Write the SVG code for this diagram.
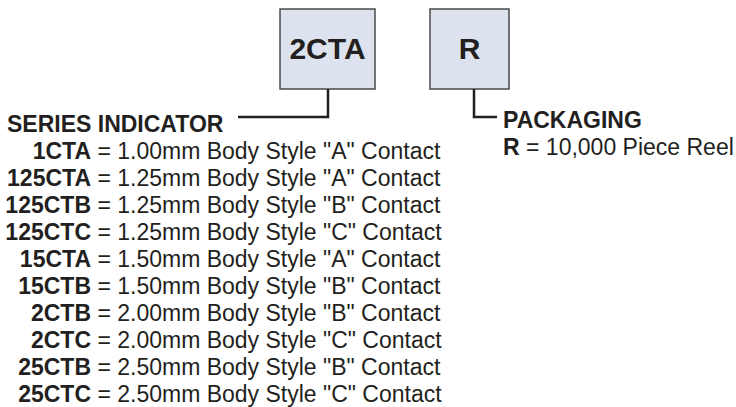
<svg xmlns="http://www.w3.org/2000/svg" width="736" height="407" viewBox="0 0 736 407">
<style>
.box{fill:#dde3ee;stroke:#4a4a4a;stroke-width:1.5}
.lbl{font-family:"Liberation Sans",Arial,sans-serif;font-weight:bold;font-size:30px;fill:#231f20;text-anchor:middle}
.h{font-family:"Liberation Sans",Arial,sans-serif;font-weight:bold;font-size:23px;fill:#231f20}
.c{font-family:"Liberation Sans",Arial,sans-serif;font-weight:bold;font-size:23px;fill:#231f20;text-anchor:end}
.d{font-family:"Liberation Sans",Arial,sans-serif;font-size:23px;fill:#231f20}
.conn{fill:none;stroke:#231f20;stroke-width:2.5}
</style>
<rect width="736" height="407" fill="#ffffff"/>
<g id="node-series">
<rect class="box" x="280" y="9" width="95" height="80"/>
<text class="lbl" x="327.5" y="59">2CTA</text>
</g>
<g id="node-packaging">
<rect class="box" x="430" y="9" width="79" height="80"/>
<text class="lbl" x="469.5" y="59">R</text>
</g>
<g id="connectors">
<polyline class="conn" points="328,89 328,117 238,117"/>
<polyline class="conn" points="474,89 474,117 497,117"/>
</g>
<g id="series-legend">
<text class="h" x="7" y="132">SERIES INDICATOR</text>
<text class="c" x="91" y="159">1CTA</text><text class="d" x="97.4" y="159">= 1.00mm Body Style "A" Contact</text>
<text class="c" x="91" y="186">125CTA</text><text class="d" x="97.4" y="186">= 1.25mm Body Style "A" Contact</text>
<text class="c" x="91" y="213">125CTB</text><text class="d" x="97.4" y="213">= 1.25mm Body Style "B" Contact</text>
<text class="c" x="91" y="240">125CTC</text><text class="d" x="97.4" y="240">= 1.25mm Body Style "C" Contact</text>
<text class="c" x="91" y="267">15CTA</text><text class="d" x="97.4" y="267">= 1.50mm Body Style "A" Contact</text>
<text class="c" x="91" y="294">15CTB</text><text class="d" x="97.4" y="294">= 1.50mm Body Style "B" Contact</text>
<text class="c" x="91" y="321">2CTB</text><text class="d" x="97.4" y="321">= 2.00mm Body Style "B" Contact</text>
<text class="c" x="91" y="348">2CTC</text><text class="d" x="97.4" y="348">= 2.00mm Body Style "C" Contact</text>
<text class="c" x="91" y="375">25CTB</text><text class="d" x="97.4" y="375">= 2.50mm Body Style "B" Contact</text>
<text class="c" x="91" y="402">25CTC</text><text class="d" x="97.4" y="402">= 2.50mm Body Style "C" Contact</text>
</g>
<g id="packaging-legend">
<text class="h" x="503" y="128">PACKAGING</text>
<text class="d" x="503" y="155"><tspan font-weight="bold">R</tspan> = 10,000 Piece Reel</text>
</g>
</svg>
